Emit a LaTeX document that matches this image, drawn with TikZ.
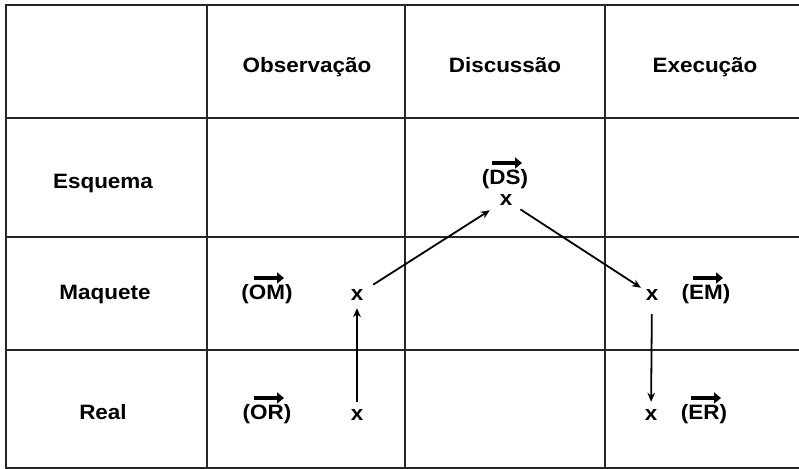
\documentclass[tikz,border=0pt]{standalone}
\usepackage{fontspec}
\setmainfont[FakeStretch=1.08]{Liberation Sans}
\usetikzlibrary{arrows.meta,calc}
\tikzset{
  tabline/.style={line width=1.2pt, draw=black!85},
  lbl/.style={anchor=base, inner sep=0pt, font=\bfseries\fontsize{10.4}{12}\selectfont},
  vtxt/.style={lbl},
  xpt/.style={circle, inner sep=1.6pt, font=\bfseries\fontsize{10.4}{12}\selectfont},
  flow/.style={-{Stealth[length=4.5pt,width=3.8pt]}, line width=0.9pt},
  vecbar/.style={-{Triangle[length=3.5pt,width=5.5pt]}, line width=2pt},
}
\begin{document}
\begin{tikzpicture}[x=0.5pt, y=-0.5pt]
  \useasboundingbox (0,0) rectangle (799,469);
  \clip (0,0) rectangle (799,469);
  % table
  \draw[tabline] (6,5) rectangle (805,468);
  \foreach \cx in {207,405,605} \draw[tabline] (\cx,5) -- (\cx,468);
  \foreach \cy in {118,237,350} \draw[tabline] (6,\cy) -- (805,\cy);
  % headings
  \node[lbl] (obs) at (307,73) {Observação};
  \node[lbl] (dis) at (505,73) {Discussão};
  \node[lbl] (exe) at (705,73) {Execução};
  \node[lbl] (esq) at (103,189) {Esquema};
  \node[lbl] (maq) at (105,300) {Maquete};
  \node[lbl] (rea) at (103,420) {Real};
  % vectors
  \node[vtxt] (om) at (267,300) {(OM)};
  \node[vtxt] (or) at (267,420) {(OR)};
  \node[vtxt] (ds) at (505,185) {(DS)};
  \node[vtxt] (em) at (706,300) {(EM)};
  \node[vtxt] (er) at (704,420) {(ER)};
  \foreach \v in {om,or,ds,em,er}
    \draw[vecbar] ($(\v.base)+(-13,-22)$) -- ($(\v.base)+(17,-22)$);
  % points
  \node[xpt] (xm) at (357,295) {x};
  \node[xpt] (xr) at (357,415) {x};
  \node[xpt] (xd) at (506,200) {x};
  \node[xpt] (xe) at (652,295) {x};
  \node[xpt] (xer) at (651,415) {x};
  \draw[flow] (xr) -- (xm);
  \draw[flow, shorten <=3pt, shorten >=3pt] (xm) -- (xd);
  \draw[flow, shorten <=2pt] (xd) -- (xe);
  \draw[flow, shorten <=3pt] (xe) -- (xer);
\end{tikzpicture}
\end{document}
